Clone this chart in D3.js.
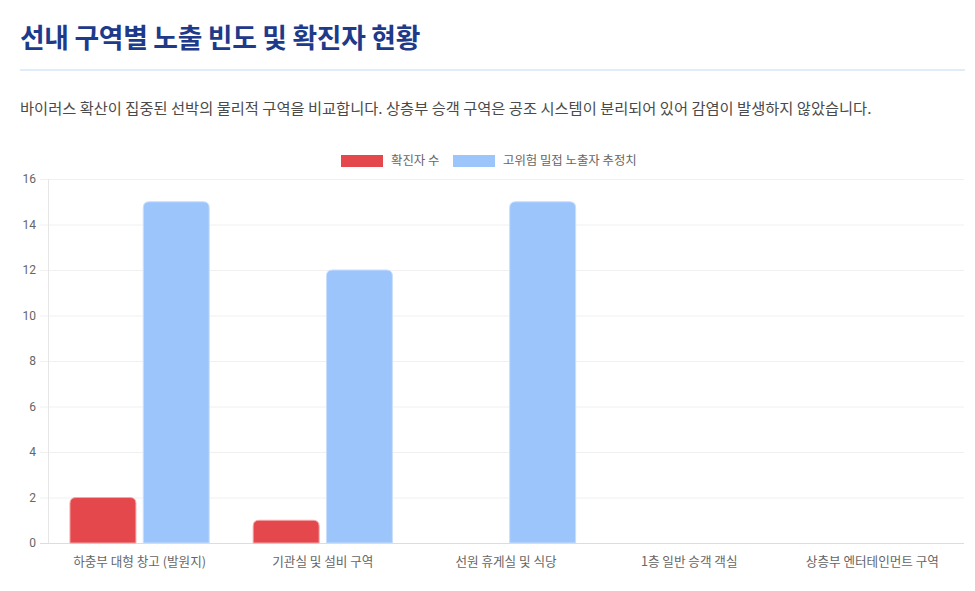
<html>
<head>
<meta charset="utf-8">
<style>
  body { margin: 0; background: #fff; font-family: "Noto Sans CJK KR", "Noto Sans", sans-serif; }
  #wrap { padding: 0 10px 0 20px; }
  h1 { margin: 0; padding-top: 19px; font-size: 26.8px; font-weight: 700; color: #1e3a8a; line-height: 36px; letter-spacing: -0.3px; }
  .rule { height: 2px; background: #e1ecfa; margin: 14px 0 0 0; width: 945px; }
  p { margin: 25px 0 0 0; font-size: 15.3px; color: #4a4a4a; }
  svg { display: block; position: absolute; left: 0; top: 140px; }
</style>
<script src="https://d3js.org/d3.v7.min.js"></script>
</head>
<body>
<div id="wrap">
  <h1>선내 구역별 노출 빈도 및 확진자 현황</h1>
  <div class="rule"></div>
  <p>바이러스 확산이 집중된 선박의 물리적 구역을 비교합니다. 상층부 승객 구역은 공조 시스템이 분리되어 있어 감염이 발생하지 않았습니다.</p>
</div>
<svg id="chart" width="975" height="451"></svg>
<script>
const zones = ["하충부 대형 창고 (발원지)", "기관실 및 설비 구역", "선원 휴게실 및 식당", "1층 일반 승객 객실", "상층부 엔터테인먼트 구역"];
const confirmed = [2, 1, 0, 0, 0];
const exposed = [15, 12, 15, 0, 0];
const seriesNames = ["확진자 수", "고위험 밀접 노출자 추정치"];
const seriesColors = ["#e5484c", "#9cc5fc"];
const yTicks = [0, 2, 4, 6, 8, 10, 12, 14, 16];

const svg = d3.select("#chart");
const plotTop = 39, plotBottom = 403, plotLeft = 48, plotRight = 964;

const x = d3.scaleBand().domain(zones).range([plotLeft, plotRight]).paddingInner(0.2).paddingOuter(0.1);
const x1 = d3.scaleBand().domain([0, 1]).range([0, x.bandwidth()]).paddingInner(0.1).paddingOuter(0.05);
const y = d3.scaleLinear().domain([0, 16]).range([plotBottom, plotTop]);

// grid
svg.append("g").selectAll("line").data(yTicks).enter().append("line")
  .attr("x1", plotLeft - 8).attr("x2", plotRight)
  .attr("y1", d => y(d) + 0.5).attr("y2", d => y(d) + 0.5)
  .attr("stroke", d => d === 0 ? "#dddddd" : "#f0f0f0").attr("stroke-width", 1);

svg.append("line").attr("x1", plotLeft + 0.5).attr("x2", plotLeft + 0.5).attr("y1", plotTop).attr("y2", plotBottom)
  .attr("stroke", "#e6e6e6");

// y axis labels
const yAxis = svg.append("g").attr("transform", `translate(${plotLeft - 10},0)`)
  .call(d3.axisLeft(y).tickValues(yTicks).tickSize(0).tickPadding(2));
yAxis.select(".domain").remove();
yAxis.selectAll("text").attr("fill", "#666").style("font-size", "12px").style("font-family", "Roboto, 'Noto Sans CJK KR', sans-serif");

// x axis labels
const xAxis = svg.append("g").attr("transform", `translate(0,${plotBottom + 8})`)
  .call(d3.axisBottom(x).tickSize(0).tickPadding(6));
xAxis.select(".domain").remove();
xAxis.selectAll("text").attr("fill", "#666").style("font-size", "12.6px").style("font-family", "'Noto Sans CJK KR', sans-serif");

// rounded-top bar path
function barPath(x0, y0, w, h, r) {
  r = Math.min(r, h, w / 2);
  return `M${x0},${y0 + h}V${y0 + r}Q${x0},${y0} ${x0 + r},${y0}H${x0 + w - r}Q${x0 + w},${y0} ${x0 + w},${y0 + r}V${y0 + h}Z`;
}

const series = [confirmed, exposed];
series.forEach((vals, si) => {
  svg.append("g").selectAll("path").data(zones).enter()
    .filter((d, i) => vals[i] > 0)
    .append("path")
    .attr("d", (d) => {
      const i = zones.indexOf(d);
      const bx = x(d) + x1(si);
      const by = y(vals[i]);
      return barPath(bx, by, x1.bandwidth(), plotBottom - by, 6);
    })
    .attr("fill", seriesColors[si])
    .attr("stroke", si === 0 ? "#f2a7a8" : "#c9defd")
    .attr("stroke-width", 1);
});

// legend
const legend = svg.append("g").attr("transform", "translate(341,15)");
const legendX = [0, 112];
seriesNames.forEach((name, i) => {
  const g = legend.append("g").attr("transform", `translate(${legendX[i]},0)`);
  g.append("rect").attr("width", 42).attr("height", 12).attr("fill", seriesColors[i]);
  g.append("text").attr("x", 50).attr("y", 10).attr("fill", "#666")
    .style("font-size", "12.4px").text(name);
});
</script>
</body>
</html>
